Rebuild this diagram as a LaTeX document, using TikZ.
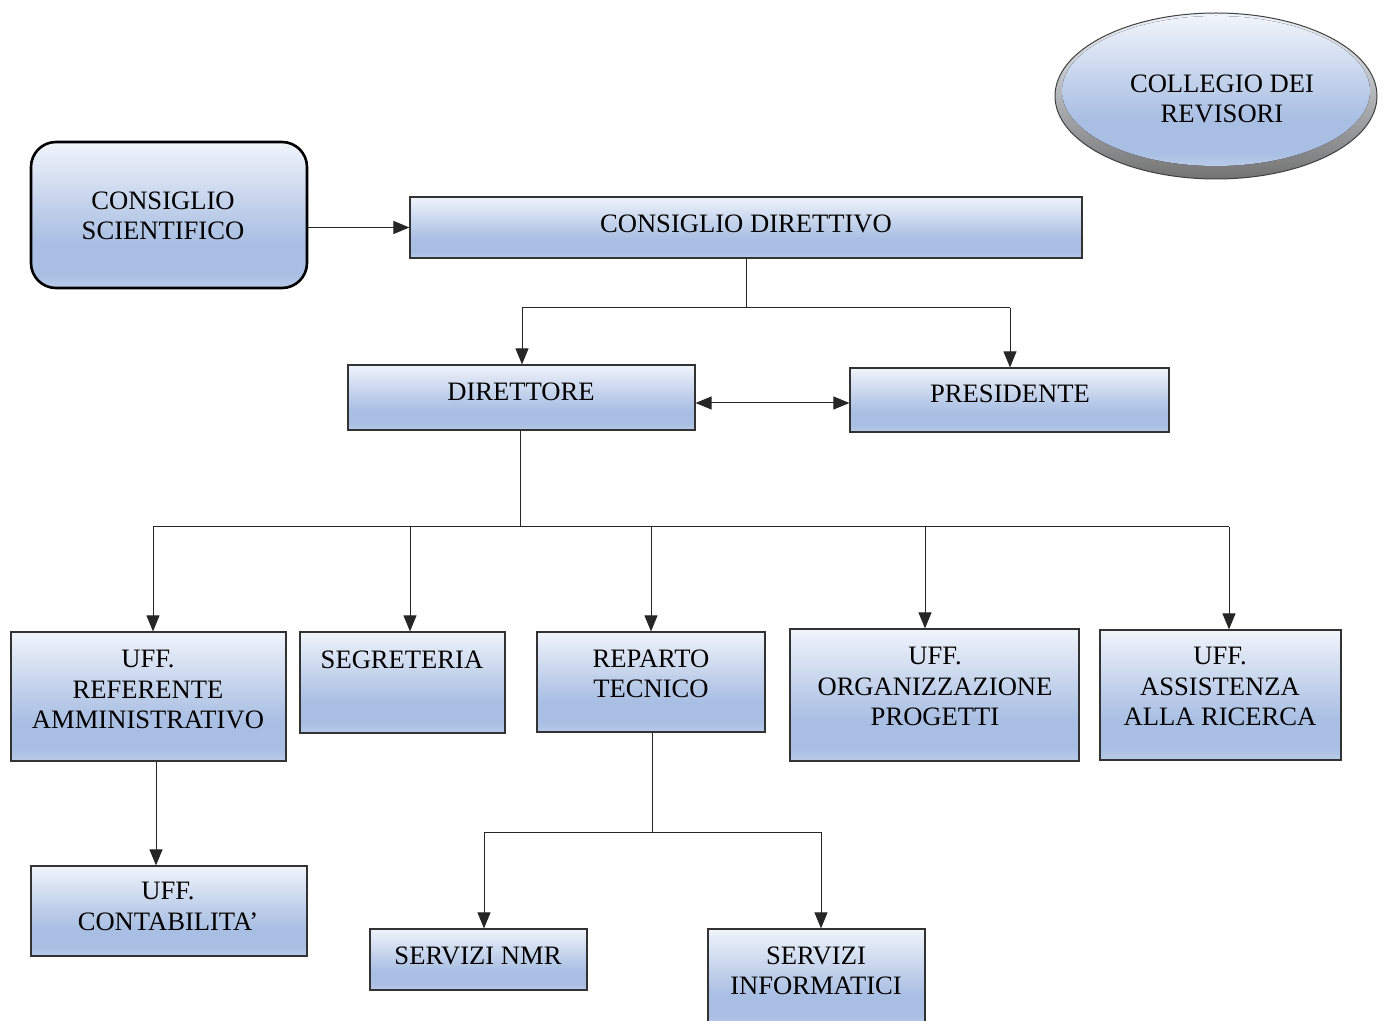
\documentclass[tikz,border=0pt]{standalone}
\usepackage{fontspec}
\setmainfont{Liberation Serif}
\usetikzlibrary{arrows.meta,shapes.geometric,fit}
\definecolor{btop}{HTML}{F0F4FB}
\definecolor{bmid}{HTML}{C6D4EC}
\definecolor{bdark}{HTML}{A8BEE3}
\definecolor{bbot}{HTML}{B9CBE9}
\definecolor{edge}{HTML}{333333}
\pgfdeclareverticalshading{boxshade}{100bp}{color(0bp)=(bbot); color(25bp)=(bbot); color(30bp)=(bdark); color(40bp)=(bdark); color(55bp)=(bmid); color(75bp)=(btop); color(100bp)=(btop)}
\tikzset{
  box/.style={draw=edge, line width=0.6pt, shading=boxshade, inner sep=0pt},
  rbox/.style={draw=black, line width=1.3pt, rounded corners=12.5pt, shading=boxshade, inner sep=0pt},
  txt/.style={font=\fontsize{13.3}{15.2}\selectfont, align=center, inner sep=0pt, anchor=north},
  con/.style={line width=0.5pt, draw=black!85},
  arr/.style={con, -{Triangle[length=8pt,width=6.5pt]}},
  darr/.style={con, {Triangle[length=8pt,width=6.5pt]}-{Triangle[length=8pt,width=6.5pt]}}
}
\begin{document}
\begin{tikzpicture}[x=0.5pt,y=-0.5pt]
\useasboundingbox (0,0) rectangle (1383,1021);
% collegio dei revisori
\node[ellipse, minimum width=161pt, minimum height=83pt, inner sep=0pt, draw=black!75, line width=0.5pt, top color=btop, bottom color=black!55] (cr) at (1216,96) {};
\fill[shading=boxshade] ([yshift=2.5pt]cr.center) ellipse [x radius=77pt, y radius=37.5pt];
\node[txt] (cr-t) at (1222,74) {COLLEGIO DEI\\REVISORI};
% boxes
\node[rbox, fit={(31,142) (307,288)}] (cs) {};
\node[txt] (cs-t) at (163,191) {CONSIGLIO\\SCIENTIFICO};
\node[box, fit={(410,197) (1082,258)}] (cd) {};
\node[txt] (cd-t) at (746,214) {CONSIGLIO DIRETTIVO};
\node[box, fit={(348,365) (695,430)}] (dir) {};
\node[txt] (dir-t) at (521,382) {DIRETTORE};
\node[box, fit={(850,368) (1169,432)}] (pres) {};
\node[txt] (pres-t) at (1010,384) {PRESIDENTE};
\node[box, fit={(11,632) (286,761)}] (ura) {};
\node[txt] (ura-t) at (148,650) {UFF.\\REFERENTE\\AMMINISTRATIVO};
\node[box, fit={(300,632) (505,733)}] (seg) {};
\node[txt] (seg-t) at (402,650) {SEGRETERIA};
\node[box, fit={(537,632) (765,732)}] (rep) {};
\node[txt] (rep-t) at (651,649) {REPARTO\\TECNICO};
\node[box, fit={(790,629) (1079,761)}] (org) {};
\node[txt] (org-t) at (935,647) {UFF.\\ORGANIZZAZIONE\\PROGETTI};
\node[box, fit={(1100,630) (1341,760)}] (ass) {};
\node[txt] (ass-t) at (1220,647) {UFF.\\ASSISTENZA\\ALLA RICERCA};
\node[box, fit={(31,866) (307,956)}] (cont) {};
\node[txt] (cont-t) at (168,882) {UFF.\\CONTABILITA’};
\node[box, fit={(370,929) (587,990)}] (nmr) {};
\node[txt] (nmr-t) at (478,946) {SERVIZI NMR};
\node[box, fit={(708,929) (925,1025)}] (inf) {};
\node[txt] (inf-t) at (816,946) {SERVIZI\\INFORMATICI};
% connectors
\draw[arr] (cs.east |- cd.west) -- (cd.west);
\coordinate (j1) at (746,308);
\draw[con] (cd.south) -- (j1);
\coordinate (a1) at (522,308);
\coordinate (a2) at (1010,308);
\draw[con] (a1) -- (a2);
\draw[arr] (a1) -- (a1 |- dir.north);
\draw[arr] (a2) -- (a2 |- pres.north);
\coordinate (h1) at (0,403);
\draw[darr] (dir.east |- h1) -- (pres.west |- h1);
\coordinate (j2) at (520,527);
\draw[con] (dir.south -| j2) -- (j2);
\coordinate (b1) at (153,527);
\coordinate (b2) at (410,527);
\coordinate (b3) at (651,527);
\coordinate (b4) at (925,527);
\coordinate (b5) at (1229,527);
\draw[con] (b1) -- (b5);
\draw[arr] (b1) -- (b1 |- ura.north);
\draw[arr] (b2) -- (b2 |- seg.north);
\draw[arr] (b3) -- (b3 |- rep.north);
\draw[arr] (b4) -- (b4 |- org.north);
\draw[arr] (b5) -- (b5 |- ass.north);
\coordinate (c1) at (156,0);
\draw[arr] (ura.south -| c1) -- (cont.north -| c1);
\coordinate (j3) at (652,832);
\draw[con] (rep.south -| j3) -- (j3);
\coordinate (e1) at (484,832);
\coordinate (e2) at (821,832);
\draw[con] (e1) -- (e2);
\draw[arr] (e1) -- (e1 |- nmr.north);
\draw[arr] (e2) -- (e2 |- inf.north);
\end{tikzpicture}
\end{document}
